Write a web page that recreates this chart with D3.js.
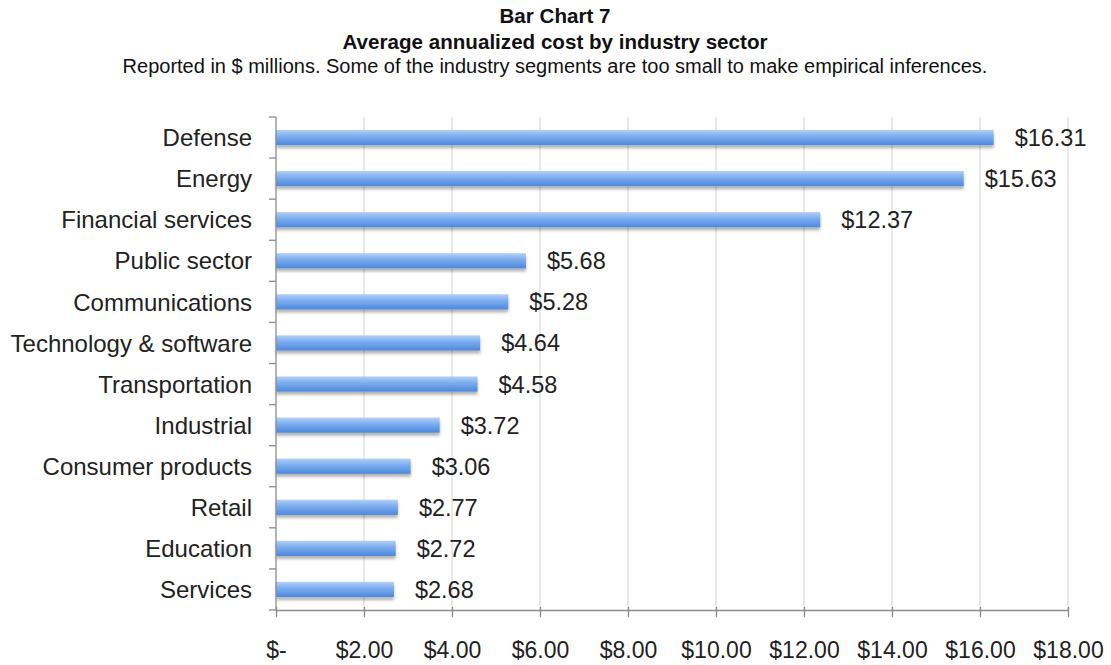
<!DOCTYPE html>
<html><head><meta charset="utf-8">
<script src="https://cdn.jsdelivr.net/npm/d3@7"></script>
<style>
html,body{margin:0;padding:0;background:#fff;}
svg{display:block;font-family:"Liberation Sans",Arial,sans-serif;}
</style></head>
<body><svg id="c" width="1111" height="665"></svg>
<script>
const categories = ["Defense","Energy","Financial services","Public sector","Communications","Technology & software","Transportation","Industrial","Consumer products","Retail","Education","Services"];
const values = [16.31,15.63,12.37,5.68,5.28,4.64,4.58,3.72,3.06,2.77,2.72,2.68];
const valueLabels = ["$16.31","$15.63","$12.37","$5.68","$5.28","$4.64","$4.58","$3.72","$3.06","$2.77","$2.72","$2.68"];
const tickValues = [0,2,4,6,8,10,12,14,16,18];
const tickLabels = ["$-","$2.00","$4.00","$6.00","$8.00","$10.00","$12.00","$14.00","$16.00","$18.00"];
const titleLines = ["Bar Chart 7","Average annualized cost by industry sector"];
const subtitle = "Reported in $ millions. Some of the industry segments are too small to make empirical inferences.";

(function(){
const svg = d3.select("#c");
const pL = 276, pR = 1068, pT = 117, pB = 610;

const defs = svg.append("defs");
const g = defs.append("linearGradient").attr("id","barg").attr("x1",0).attr("y1",0).attr("x2",0).attr("y2",1);
g.append("stop").attr("offset","0%").attr("stop-color","#b2cff6");
g.append("stop").attr("offset","45%").attr("stop-color","#79abee");
g.append("stop").attr("offset","100%").attr("stop-color","#4c88dd");
const f = defs.append("filter").attr("id","sh").attr("x","-5%").attr("y","-30%").attr("width","110%").attr("height","180%");
f.append("feDropShadow").attr("dx",0).attr("dy",3).attr("stdDeviation",1.5).attr("flood-color","#000").attr("flood-opacity",0.3);

const x = d3.scaleLinear().domain([0,18]).range([pL,pR]);
const y = d3.scaleBand().domain(categories).range([pT,pB]).paddingInner(0.63).paddingOuter(0.315);
const yb = d3.scaleBand().domain(categories).range([pT,pB]);

svg.append("g").selectAll("line").data(tickValues.slice(1)).join("line")
  .attr("x1",d=>x(d)).attr("x2",d=>x(d)).attr("y1",pT).attr("y2",pB)
  .attr("stroke","#d9d9d9").attr("stroke-width",1.2);

svg.append("g").selectAll("rect").data(categories).join("rect")
  .attr("x",x(0)).attr("y",d=>y(d)).attr("width",(d,i)=>x(values[i])-x(0)).attr("height",y.bandwidth())
  .attr("fill","url(#barg)").attr("filter","url(#sh)");

const xAxis = d3.axisBottom(x).tickValues(tickValues).tickFormat((d,i)=>tickLabels[i]).tickSize(7).tickSizeOuter(0);
const gx = svg.append("g").attr("transform",`translate(0,${pB})`).call(xAxis);
gx.select(".domain").attr("stroke","#8c8c8c").attr("stroke-width",1.3);
gx.selectAll(".tick line").attr("stroke","#8c8c8c").attr("stroke-width",1.3).attr("y1",-3);
gx.selectAll("text").attr("font-size",23).attr("fill","#222").attr("dy",0).attr("y",48).attr("font-family","Liberation Sans, Arial, sans-serif");

const gy = svg.append("g").attr("transform",`translate(${pL},0)`);
gy.append("line").attr("x1",0).attr("x2",0).attr("y1",pT).attr("y2",pB).attr("stroke","#8c8c8c").attr("stroke-width",1.3);
const yTicks = categories.map(c=>yb(c)).concat([pB]);
gy.selectAll(".yt").data(yTicks).join("line").attr("class","yt")
  .attr("x1",-7).attr("x2",0).attr("y1",d=>d).attr("y2",d=>d).attr("stroke","#8c8c8c").attr("stroke-width",1.3);
gy.selectAll(".yl").data(categories).join("text").attr("class","yl")
  .attr("x",-24).attr("y",d=>yb(d)+yb.bandwidth()/2).attr("dy","0.36em")
  .attr("text-anchor","end").attr("font-size",24).attr("fill","#222").text(d=>d);

svg.append("g").selectAll("text").data(categories).join("text")
  .attr("x",(d,i)=>x(values[i])+21).attr("y",d=>yb(d)+yb.bandwidth()/2).attr("dy","0.36em")
  .attr("font-size",23.5).attr("fill","#222").text((d,i)=>valueLabels[i]);

svg.append("text").attr("x",555).attr("y",23).attr("text-anchor","middle").attr("font-weight","bold").attr("font-size",20.6).attr("fill","#111").text(titleLines[0]);
svg.append("text").attr("x",555).attr("y",49).attr("text-anchor","middle").attr("font-weight","bold").attr("font-size",20.6).attr("fill","#111").text(titleLines[1]);
svg.append("text").attr("x",555).attr("y",73).attr("text-anchor","middle").attr("font-size",20).attr("fill","#111").text(subtitle);
})();
</script></body></html>
